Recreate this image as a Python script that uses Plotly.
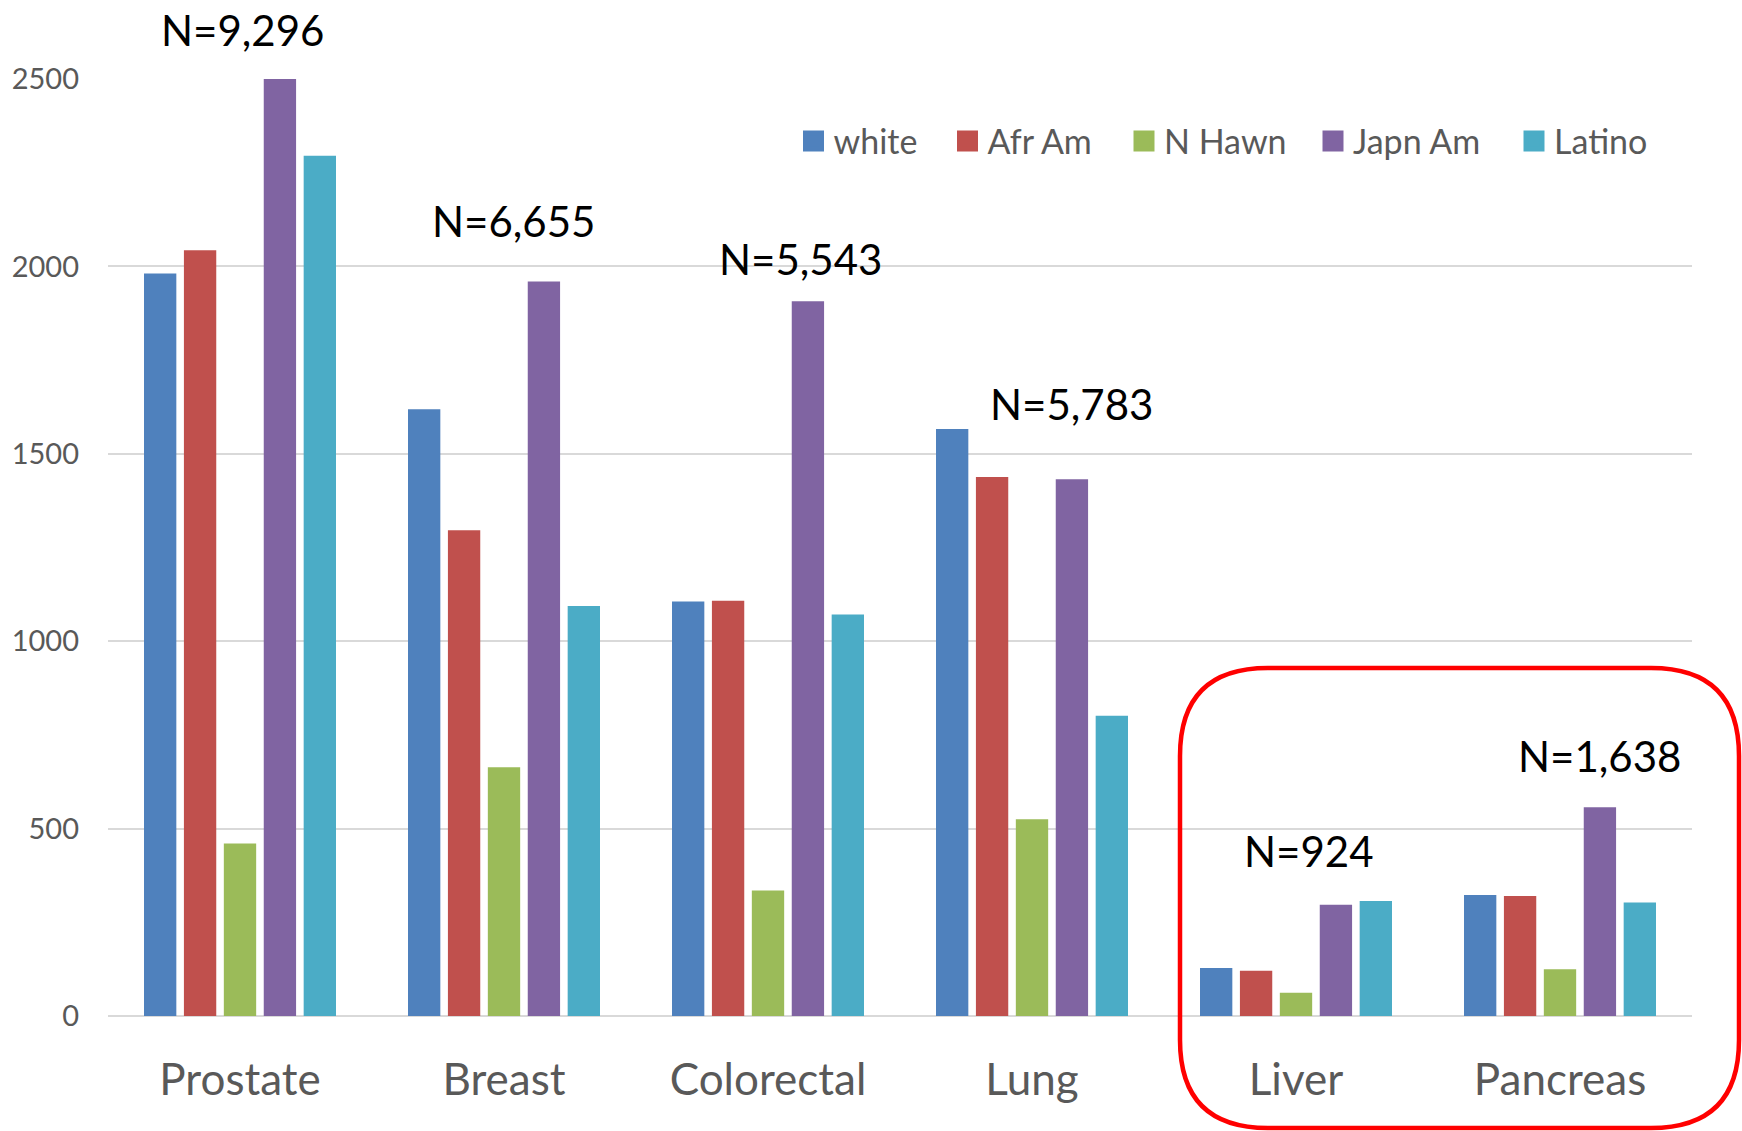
import plotly.graph_objects as go

categories = ["Prostate", "Breast", "Colorectal", "Lung", "Liver", "Pancreas"]
series_names = ["white", "Afr Am", "N Hawn", "Japn Am", "Latino"]
white = [1981, 1619, 1106, 1566, 128, 323]
afr_am = [2043, 1296, 1108, 1438, 121, 320]
n_hawn = [460, 664, 335, 525, 62, 125]
japn_am = [2500, 1960, 1907, 1432, 297, 557]
latino = [2295, 1094, 1071, 801, 307, 303]
n_labels = ["N=9,296", "N=6,655", "N=5,543", "N=5,783", "N=924", "N=1,638"]
y_ticks = [0, 500, 1000, 1500, 2000, 2500]

colors = ["#4F81BD", "#C0504D", "#9BBB59", "#8064A2", "#4BACC6"]
values = [white, afr_am, n_hawn, japn_am, latino]

FONT = "Lato"
W, H = 1742, 1131
L, R, T, B = 108, 50, 79, 115
YMAX = 2500
pw, ph = W - L - R, H - T - B

def px(x):
    return (x - L) / pw

def py(y):
    return (H - B - y) / ph

fig = go.Figure()
for name, vals, col in zip(series_names, values, colors):
    fig.add_trace(go.Bar(x=categories, y=vals, name=name, showlegend=False,
                         marker=dict(color=col, line=dict(width=0))))

# legend entries (one small legend per series so spacing can match)
legend_centers = [813.5, 967.5, 1144, 1333, 1534]  # symbol centres, px
legend_cfg = {}
for i, (name, col, cx) in enumerate(zip(series_names, colors, legend_centers)):
    lid = "legend" if i == 0 else f"legend{i + 1}"
    fig.add_trace(go.Scatter(x=[None], y=[None], mode="markers", name=name,
                             legend=lid, showlegend=True, hoverinfo="skip",
                             marker=dict(symbol="square", size=16, color=col,
                                         line=dict(color=col, width=5))))
    legend_cfg[lid] = dict(x=px(cx - 20), y=py(141.5), xanchor="left", yanchor="middle",
                           orientation="h", itemsizing="trace", itemclick=False,
                           bgcolor="rgba(0,0,0,0)", borderwidth=0,
                           font=dict(family=FONT, size=34, color="#595959"))

# N label placement (layout constants: data-unit height and pixel x-shift)
label_y = [2631, 2120, 2020, 1634, 439, 694]
label_xshift = [2, 9, 32, 39, 13, 39]
for cat, txt, yy, xs in zip(categories, n_labels, label_y, label_xshift):
    fig.add_annotation(x=cat, y=yy / YMAX, yref="paper", text=txt, showarrow=False,
                       xshift=xs, font=dict(family=FONT, size=42, color="#000000"),
                       yanchor="middle", xanchor="center", borderpad=0)

# Red rounded highlight box
x0, x1, y0, y1, r = 1180, 1739, 668, 1128, 88
path = (f"M {px(x0 + r)},{py(y0)} L {px(x1 - r)},{py(y0)} "
        f"Q {px(x1)},{py(y0)} {px(x1)},{py(y0 + r)} "
        f"L {px(x1)},{py(y1 - r)} Q {px(x1)},{py(y1)} {px(x1 - r)},{py(y1)} "
        f"L {px(x0 + r)},{py(y1)} Q {px(x0)},{py(y1)} {px(x0)},{py(y1 - r)} "
        f"L {px(x0)},{py(y0 + r)} Q {px(x0)},{py(y0)} {px(x0 + r)},{py(y0)} Z")
fig.add_shape(type="path", path=path, xref="paper", yref="paper",
              line=dict(color="#FF0000", width=4.5), layer="above")

fig.update_layout(
    width=W, height=H,
    margin=dict(l=L, r=R, t=T, b=B, pad=0, autoexpand=False),
    paper_bgcolor="white", plot_bgcolor="white",
    barmode="group", bargap=0.244, bargroupgap=0.19,
    font=dict(family=FONT, color="#595959"),
    xaxis=dict(showgrid=False, showline=False, zeroline=False, ticks="",
               automargin=False,
               tickfont=dict(family=FONT, size=44, color="#595959"),
               ticklabelstandoff=34),
    yaxis=dict(range=[0, YMAX], tickvals=y_ticks, ticktext=[str(v) for v in y_ticks],
               automargin=False,
               showgrid=True, gridcolor="#D9D9D9", gridwidth=2,
               zeroline=True, zerolinecolor="#D9D9D9", zerolinewidth=2,
               showline=False, ticks="",
               tickfont=dict(family=FONT, size=29, color="#595959"),
               ticklabelstandoff=28),
    **legend_cfg,
)

fig.write_html("out.html", config={"displayModeBar": False},
               post_script="document.body.style.margin='0';document.body.style.overflow='hidden';")
